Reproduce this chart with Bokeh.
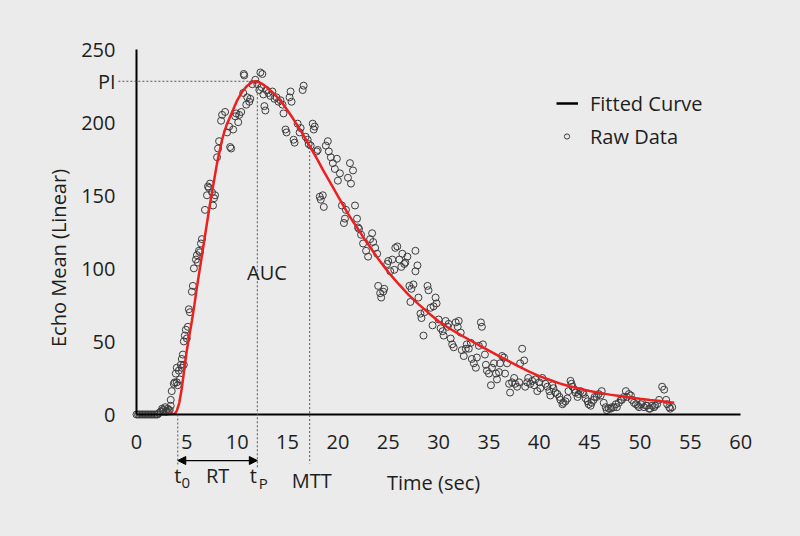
import math
from bokeh.plotting import figure
from bokeh.models import (Range1d, Label, Arrow, NormalHead, Legend, LegendItem,
                          FixedTicker)
from bokeh.embed import file_html
from bokeh.resources import INLINE

# ---------------- data ----------------
x_ticks = [0, 5, 10, 15, 20, 25, 30, 35, 40, 45, 50, 55, 60]
y_ticks = [0, 50, 100, 150, 200, 250]

PI = 228
t0 = 4.1
tp = 12.0
mtt = 17.2
mtt_level = 183
auc_pos = (12.96, 97.5)

fit_t = [2.5, 3.8, 4.0, 4.25, 4.5, 4.75, 5.0, 5.25, 5.5, 5.75, 6.0, 6.25, 6.5, 6.75,
         7.0, 7.25, 7.5, 7.75, 8.0, 8.25, 8.5, 8.75, 9.0, 9.5, 10.0, 10.5, 11.0, 11.5,
         11.8, 12.0, 12.5, 13.0, 13.5, 14.0, 14.5, 15.0, 15.5, 16.0, 16.5, 17.0, 17.5,
         18.0, 18.5, 19.0, 19.5, 20.0, 20.5, 21.0, 21.5, 22.0, 22.5, 23.0, 23.5, 24.0,
         24.5, 25.0, 25.5, 26.0, 27.0, 28.0, 29.0, 30.0, 31.0, 32.0, 33.0, 34.0, 35.0,
         36.0, 37.0, 38.0, 39.0, 40.0, 41.0, 42.0, 43.0, 44.0, 45.0, 46.0, 47.0, 48.0,
         49.0, 50.0, 51.0, 52.0, 53.4]
fit_v = [0, 0.5, 2.5, 8, 18, 31, 44, 54, 64, 75, 87, 98, 109, 120,
         131, 142, 152, 162, 172, 180, 188, 194, 199, 207, 215, 221, 225, 227.5,
         228, 227.8, 226.2, 223.5, 220.5, 217, 213, 208, 203, 197.5, 192, 186, 180,
         174, 167.5, 161.5, 155.5, 149.5, 143.5, 137.5, 132, 127, 121.5, 116.5, 111.5, 106.5,
         102, 97.5, 93.5, 89.5, 82, 75.5, 69.5, 63.8, 59.2, 55.2, 51.3, 47.5, 43.7,
         40.0, 36.3, 32.8, 29.3, 26.3, 23.8, 21.3, 19.3, 17.6, 16.1, 14.8, 13.6, 12.6,
         11.6, 10.7, 9.9, 9.2, 8.0]

raw_t = [0.0, 0.15, 0.3, 0.45, 0.6, 0.75, 0.9, 1.05, 1.2, 1.35, 1.5, 1.65, 1.8, 1.95,
         2.1, 2.25, 2.4, 2.55, 2.6, 2.7, 2.85, 2.9, 3.0, 3.1, 3.2, 3.3, 3.4, 3.4, 3.5,
         3.7, 3.8, 3.9, 4.0, 4.0, 4.1, 4.2, 4.3, 4.4, 4.5, 4.5, 4.6, 4.7, 4.7, 4.8,
         4.9, 5.0, 5.1, 5.2, 5.3, 5.5, 5.6, 5.7, 5.9, 6.0, 6.1, 6.2, 6.3, 6.4, 6.5,
         6.8, 7.0, 7.1, 7.2, 7.3, 7.5, 7.6, 7.7, 7.8, 8.0, 8.1, 8.2, 8.4, 8.5, 8.8,
         9.0, 9.2, 9.3, 9.4, 9.6, 9.8, 9.9, 10.1, 10.2, 10.4, 10.6, 10.65, 10.7, 10.9,
         11.0, 11.2, 11.3, 11.5, 11.8, 12.0, 12.2, 12.3, 12.4, 12.5, 12.6, 12.7, 12.8,
         12.9, 13.1, 13.3, 13.5, 13.7, 13.9, 14.1, 14.3, 14.5, 14.6, 14.8, 14.9, 15.2,
         15.3, 15.4, 15.6, 15.7, 16.0, 16.2, 16.3, 16.5, 16.6, 16.8, 17.0, 17.1, 17.3,
         17.5, 17.6, 17.7, 17.9, 18.0, 18.2, 18.3, 18.5, 18.6, 18.8, 19.0, 19.1, 19.3,
         19.5, 19.7, 19.9, 20.0, 20.2, 20.4, 20.6, 20.7, 20.8, 21.0, 21.2, 21.3, 21.5,
         21.7, 21.9, 22.0, 22.1, 22.3, 22.5, 22.8, 23.0, 23.2, 23.4, 23.5, 23.7, 23.9,
         24.0, 24.2, 24.3, 24.5, 24.6, 24.9, 25.0, 25.2, 25.4, 25.6, 25.7, 25.9, 26.1,
         26.3, 26.4, 26.6, 26.7, 26.9, 27.1, 27.2, 27.3, 27.5, 27.7, 27.7, 27.9, 28.0,
         28.2, 28.3, 28.5, 28.6, 28.9, 29.0, 29.2, 29.4, 29.5, 29.7, 29.8, 30.0, 30.2,
         30.4, 30.5, 30.7, 30.9, 31.0, 31.2, 31.35, 31.5, 31.7, 31.9, 32.0, 32.2, 32.3,
         32.5, 32.7, 32.8, 33.0, 33.2, 33.3, 33.5, 33.7, 33.8, 34.0, 34.2, 34.3, 34.4,
         34.6, 34.7, 34.8, 35.0, 35.2, 35.3, 35.5, 35.7, 35.8, 36.0, 36.1, 36.3, 36.5,
         36.6, 36.8, 37.0, 37.1, 37.3, 37.5, 37.6, 37.8, 38.0, 38.1, 38.3, 38.5, 38.6,
         38.8, 38.9, 39.1, 39.3, 39.5, 39.6, 39.8, 40.0, 40.1, 40.3, 40.6, 40.8, 41.0,
         41.1, 41.3, 41.4, 41.6, 41.8, 42.0, 42.1, 42.3, 42.4, 42.6, 42.8, 42.9, 43.1,
         43.2, 43.3, 43.5, 43.6, 43.8, 43.9, 44.1, 44.3, 44.4, 44.6, 44.8, 44.9, 45.1,
         45.2, 45.4, 45.5, 45.7, 45.9, 46.1, 46.2, 46.4, 46.6, 46.7, 46.9, 47.1, 47.2,
         47.4, 47.6, 47.7, 47.9, 48.1, 48.2, 48.4, 48.6, 48.7, 48.9, 49.1, 49.2, 49.4,
         49.6, 49.8, 49.9, 50.1, 50.2, 50.4, 50.6, 50.7, 50.9, 51.0, 51.2, 51.4, 51.5,
         51.7, 51.9, 52.2, 52.4, 52.6, 52.7, 52.9, 53.0, 53.2]
raw_v = [0, 0, 0, 0, 0, 0, 0, 0, 0, 0, 0, 0, 0, 0,
         0, 1, 2, 4, 3, 3, 5, 2, 2, 4, 3, 3, 6, 10, 16,
         21, 22, 28, 32, 22, 20, 30, 24, 34, 32, 38, 41, 34, 50, 54,
         58, 52, 60, 72, 70, 84, 88, 100, 106, 109, 104, 112, 111, 117, 120,
         140, 150, 156, 155, 158, 152, 143, 148, 150, 176, 182, 187, 201, 205, 207,
         193, 197, 183, 182, 195, 204, 206, 200, 205, 207, 220, 233, 232, 212,
         217, 214, 216, 226, 229, 226, 222, 234, 224, 233, 219, 211, 208,
         222, 220, 218, 221, 216, 217, 214, 215, 212, 206, 195, 193, 217,
         221, 214, 188, 186, 199, 193, 196, 222, 225, 190, 188, 185, 184,
         199, 195, 197, 180, 181, 149, 147, 150, 142, 184, 187, 180, 176,
         172, 168, 175, 160, 165, 143, 131, 134, 140, 162, 172, 158, 167,
         143, 134, 128, 127, 123, 117, 112, 108, 120, 124, 118, 114, 110,
         88, 83, 80, 84, 86, 103, 105, 98, 106, 99, 114, 115, 106,
         101, 110, 103, 104, 108, 88, 77, 86, 89, 112, 98, 102, 80,
         69, 66, 54, 70, 88, 85, 73, 61, 74, 80, 76, 65, 59,
         57, 54, 64, 60, 62, 52, 48, 46, 63, 60, 64, 56, 44,
         40, 45, 48, 45, 49, 38, 35, 32, 39, 47, 63, 60, 48,
         41, 34, 30, 28, 20, 32, 35, 28, 24, 29, 35, 40, 39,
         28, 35, 21, 15, 22, 25, 21, 19, 22, 35, 45, 37, 19,
         22, 25, 21, 23, 20, 24, 16, 22, 18, 25, 21, 19, 16,
         13, 20, 18, 15, 14, 12, 10, 7, 8, 9, 11, 16, 23,
         21, 19, 17, 15, 12, 14, 16, 15, 14, 11, 9, 7, 6,
         8, 10, 12, 12, 14, 13, 16, 8, 5, 3, 4, 4, 5,
         5, 7, 5, 8, 10, 10, 12, 16, 12, 14, 13, 10, 8,
         7, 6, 5, 7, 8, 5, 6, 6, 4, 4, 6, 5, 6,
         7, 10, 19, 17, 10, 7, 5, 4, 5]

# ---------------- styling ----------------
BG = "#ebebeb"
FONT = "Open Sans"
TXT = "#1e1e1e"
FS = "20px"
SUB = "15px"

# frame covers the whole canvas; axes are pinned at 0 with fixed_location
p = figure(width=800, height=536, min_border=0,
           x_range=Range1d(-13.505, 65.94), y_range=Range1d(-83.48, 283.27),
           output_backend="svg", toolbar_location=None,
           background_fill_color=BG, border_fill_color=BG,
           outline_line_color=None)
p.grid.visible = False

for ax in (p.xaxis, p.yaxis):
    ax.fixed_location = 0
    ax.axis_line_color = "black"
    ax.axis_line_width = 2
    ax.major_tick_line_color = None
    ax.minor_tick_line_color = None
    ax.major_label_text_font = FONT
    ax.major_label_text_font_size = FS
    ax.major_label_text_color = TXT

p.xaxis.ticker = FixedTicker(ticks=x_ticks)
p.xaxis.bounds = (x_ticks[0], x_ticks[-1])
p.xaxis.major_label_standoff = 15

p.yaxis.ticker = FixedTicker(ticks=y_ticks + [PI])
p.yaxis.bounds = (y_ticks[0], y_ticks[-1])
p.yaxis.major_label_overrides = {PI: "PI"}
p.yaxis.major_label_standoff = 15

# raw data & fitted curve
pts = p.scatter(raw_t, raw_v, marker="circle", size=7, fill_color=None,
                line_color="#3c3c3c", line_width=1)
p.line(fit_t, fit_v, line_color="#ee1f1f", line_width=2.5)

# dashed guide lines
DASH = dict(line_color="#555555", line_width=1, line_dash="2 2", start=None, end=None)
p.add_layout(Arrow(x_start=-1.8, y_start=PI, x_end=tp, y_end=PI, **DASH))
p.add_layout(Arrow(x_start=tp, y_start=PI, x_end=tp, y_end=-36.3, **DASH))
p.add_layout(Arrow(x_start=t0, y_start=0, x_end=t0, y_end=-35.6, **DASH))
p.add_layout(Arrow(x_start=mtt, y_start=mtt_level, x_end=mtt, y_end=-33.5, **DASH))

# RT arrow
p.add_layout(Arrow(x_start=t0, y_start=-31.5, x_end=tp, y_end=-31.5,
                   line_color="black", line_width=1.2,
                   start=NormalHead(size=8, fill_color="black", line_color="black"),
                   end=NormalHead(size=8, fill_color="black", line_color="black")))

def lab(x, y, text, size=FS, x_offset=0, angle=0):
    p.add_layout(Label(x=x, y=y, text=text, x_offset=x_offset, angle=angle,
                       text_font=FONT, text_font_size=size, text_color=TXT,
                       text_align="center", text_baseline="middle"))

lab(t0, -41.7, "t")
lab(t0, -46.9, "0", size=SUB, x_offset=8)
lab((t0 + tp) / 2, -41.4, "RT")
lab(tp, -41.7, "t", x_offset=-4)
lab(tp, -46.9, "P", size=SUB, x_offset=6)
lab(mtt, -45.2, "MTT", x_offset=2)
lab(29.5, -46.5, "Time (sec)")
lab(auc_pos[0], auc_pos[1], "AUC")
lab(-7.75, 107.1, "Echo Mean (Linear)", angle=math.pi / 2)

# legend: black line sample (hidden renderer) + the raw data scatter
leg_line = p.line(fit_t, fit_v, line_color="black", line_width=2.5, visible=False)

LEG = dict(border_line_color=None, background_fill_alpha=0, padding=0, margin=0,
           label_text_font=FONT, label_text_font_size=FS, label_text_color=TXT,
           label_height=30, glyph_height=30, spacing=0, inactive_fill_alpha=0)
legend1 = Legend(items=[LegendItem(label="Fitted Curve", renderers=[leg_line])],
                 location=(556, 418), glyph_width=22, label_standoff=12, **LEG)
legend2 = Legend(items=[LegendItem(label="Raw Data", renderers=[pts])],
                 location=(560, 385), glyph_width=13, label_standoff=17, **LEG)
p.add_layout(legend1)
p.add_layout(legend2)

html = file_html(p, INLINE)
html = html.replace("</head>", "<style>html, body { background-color: #ebebeb; }</style></head>", 1)
open("out.html", "w").write(html)
